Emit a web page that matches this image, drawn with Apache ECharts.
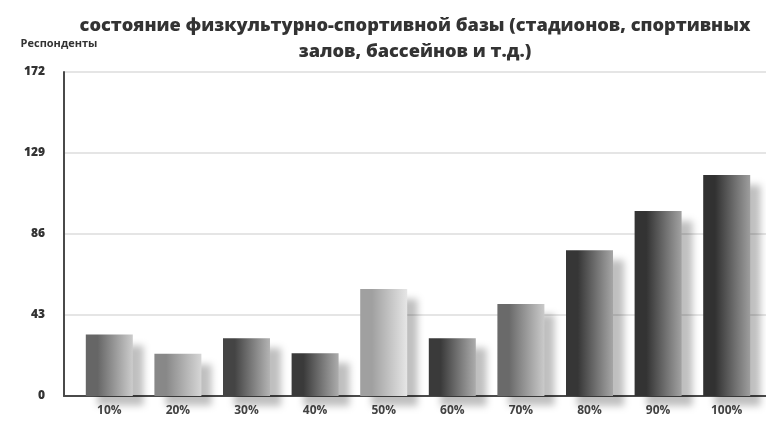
<!DOCTYPE html>
<html>
<head>
<meta charset="utf-8">
<script src="https://cdn.jsdelivr.net/npm/echarts@6/dist/echarts.min.js"></script>
<style>
html,body{margin:0;padding:0;background:#fff;}
#chart{width:766px;height:421px;}
</style>
</head>
<body>
<div id="chart"></div>
<script>
const titleText = 'состояние физкультурно-спортивной базы (стадионов, спортивных\nзалов, бассейнов и т.д.)';
const axisName = 'Респонденты';
const categories = ['10%','20%','30%','40%','50%','60%','70%','80%','90%','100%'];
const respondents = [32.6, 22.4, 30.7, 22.7, 56.8, 30.7, 48.9, 77.4, 98.2, 117.3];
const yMin = 0;
const yMax = 172;
const yStep = 43;
// style only: gradient shades per bar (dark edge, light edge)
const barShades = [
  ['#666666','#cccccc'],
  ['#888888','#d6d6d6'],
  ['#444444','#b4b4b4'],
  ['#3a3a3a','#acacac'],
  ['#a0a0a0','#e6e6e6'],
  ['#3a3a3a','#acacac'],
  ['#6a6a6a','#cacaca'],
  ['#363636','#a6a6a6'],
  ['#333333','#a2a2a2'],
  ['#313131','#9e9e9e']
];

const chart = echarts.init(document.getElementById('chart'), null, {renderer:'canvas'});
const font = '"Open Sans", "DejaVu Sans", sans-serif';
chart.setOption({
  animation:false,
  backgroundColor:'#ffffff',
  title:{
    text:titleText,
    left:410, top:8, textAlign:'center',
    textStyle:{fontFamily:font, fontWeight:800, fontSize:18.2, color:'#333', lineHeight:26}
  },
  grid:[
    {left:64, right:0, top:72, bottom:25},
    {left:75, right:5, top:72, bottom:25}
  ],
  xAxis:[
    {gridIndex:0, type:'value', min:0, max:1, axisLine:{show:true, lineStyle:{color:'#4a4a4a', width:2}},
     axisTick:{show:false}, axisLabel:{show:false}, splitLine:{show:false}},
    {gridIndex:1, type:'category', data:categories, axisLine:{show:false}, axisTick:{show:false},
     axisLabel:{margin:9, fontFamily:font, fontWeight:'bold', fontSize:12, color:'#444'}}
  ],
  yAxis:[
    {gridIndex:0, type:'value', min:yMin, max:yMax, interval:yStep,
     name:axisName, nameLocation:'end', nameGap:23,
     nameTextStyle:{fontFamily:font, fontWeight:'bold', fontSize:11, color:'#333', align:'center', padding:[0,10,0,0]},
     axisLine:{show:true, lineStyle:{color:'#4a4a4a', width:2}}, axisTick:{show:false},
     axisLabel:{margin:19, fontFamily:font, fontWeight:800, fontSize:12, color:'#333'},
     splitLine:{show:true, lineStyle:{color:'#dcdcdc', width:1.5}}},
    {gridIndex:1, type:'value', min:yMin, max:yMax, interval:yStep, show:false, splitLine:{show:false}}
  ],
  series:[{
    type:'bar', xAxisIndex:1, yAxisIndex:1, barWidth:47,
    data:respondents,
    itemStyle:{
      color:function(p){
        const s = barShades[p.dataIndex];
        return new echarts.graphic.LinearGradient(0,0,1,0,[
          {offset:0, color:s[0]},{offset:0.25, color:s[0]},{offset:1, color:s[1]}
        ]);
      },
      shadowColor:'rgba(0,0,0,0.25)', shadowBlur:7, shadowOffsetX:11, shadowOffsetY:10
    }
  }]
});
</script>
</body>
</html>
